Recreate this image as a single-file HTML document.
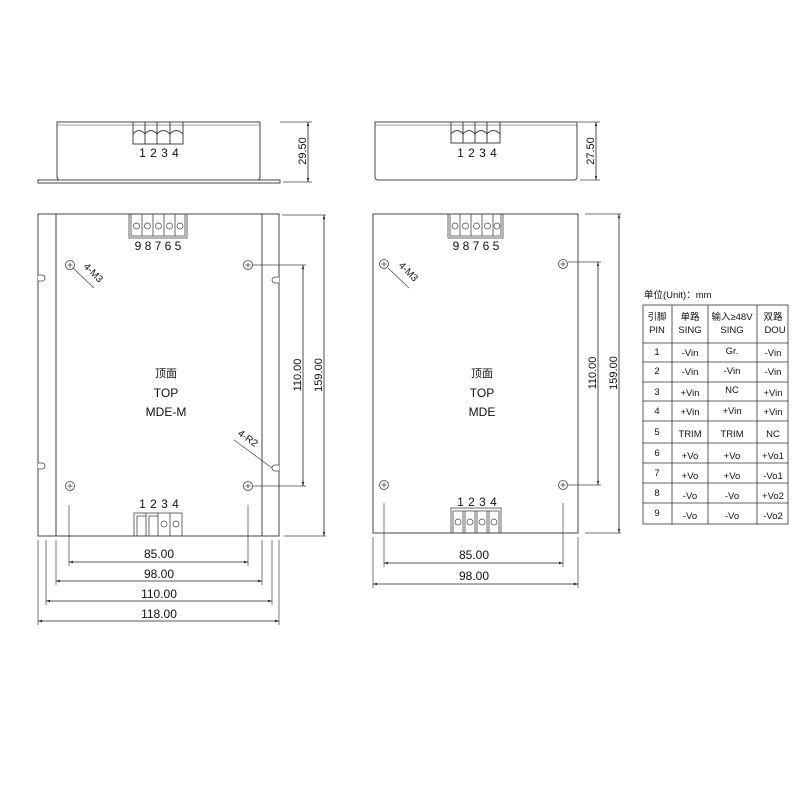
<!DOCTYPE html>
<html><head><meta charset="utf-8"><style>
html,body{margin:0;padding:0;background:#fff;}
svg{display:block;font-family:"Liberation Sans","Noto Sans CJK SC",sans-serif;}
.sp{word-spacing:1px;}
</style></head><body>
<svg width="800" height="800" viewBox="0 0 800 800" xmlns="http://www.w3.org/2000/svg">
<defs>
<marker id="a" viewBox="0 0 10 10" refX="10" refY="5" markerWidth="5" markerHeight="5" orient="auto-start-reverse"><path d="M0,2 L10,5 L0,8 z" fill="#222"/></marker>
<g id="hole"><circle r="4.5" fill="#fff" stroke="#444" stroke-width="0.8"/><path d="M-2.5,0H2.5M0,-2.5V2.5" stroke="#444" stroke-width="0.8"/></g>
</defs>
<rect width="800" height="800" fill="#fff"/>
<g stroke="#444" stroke-width="1" fill="none">
<path d="M57,122 H260 V177 Q260,180 257,180 H60 Q57,180 57,177 Z"/>
<line x1="57" y1="125" x2="260" y2="125" stroke-width="0.6"/>
<rect x="38" y="180" width="242" height="3"/>
<rect x="133" y="122" width="50" height="22"/>
<path d="M133,134 q6,-7 12,0 q6,-7 12,0 q6,-7 13,0 q6,-7 13,0 M145,122v22 M157,122v22 M170,122v22"/>
<line x1="280" y1="122" x2="312" y2="122" stroke-width="0.7"/>
<line x1="283" y1="182" x2="312" y2="182" stroke-width="0.7"/>
<line x1="308" y1="122" x2="308" y2="182" stroke="#222" stroke-width="0.8" marker-start="url(#a)" marker-end="url(#a)"/>

<rect x="38" y="214" width="241" height="322"/>
<line x1="56" y1="214" x2="56" y2="536"/>
<line x1="262" y1="214" x2="262" y2="536"/>
<path d="M38,275 h4 a3,3 0 0 1 0,6 h-4 M279,277 h-4 a3,3 0 0 0 0,6 h4 M38,463 h4 a3,3 0 0 1 0,6 h-4 M279,465 h-4 a3,3 0 0 0 0,6 h4" stroke-width="0.8" fill="#fff"/>
<rect x="129" y="214" width="58" height="24" stroke-width="0.8"/>
<rect x="131" y="214" width="54" height="22" stroke-width="0.8"/>
<path d="M142,214v22 M153,214v22 M164,214v22 M175,214v22" stroke-width="0.8"/>
<g stroke-width="0.7"><circle cx="136.5" cy="226" r="3"/><circle cx="147.5" cy="226" r="3"/><circle cx="158.5" cy="226" r="3"/><circle cx="169.5" cy="226" r="3"/><circle cx="180" cy="226" r="3"/></g>
<rect x="134" y="513" width="48" height="23" stroke-width="0.8"/>
<path d="M137,516v20 M146,513v23 M149,516v20 M158,513v23 M170,513v23 M137,516h9 M149,516h9" stroke-width="0.8"/>
<g stroke-width="0.7"><circle cx="164" cy="524" r="3"/><circle cx="176" cy="524" r="3"/></g>
<line x1="73" y1="268" x2="94" y2="288" stroke-width="0.7"/>
<line x1="234" y1="440" x2="272" y2="468" stroke-width="0.7"/>
<line x1="253" y1="265" x2="306" y2="265" stroke-width="0.7"/>
<line x1="253" y1="486" x2="306" y2="486" stroke-width="0.7"/>
<line x1="303" y1="265" x2="303" y2="486" stroke="#222" stroke-width="0.8" marker-start="url(#a)" marker-end="url(#a)"/>
<line x1="282" y1="215" x2="326" y2="215" stroke-width="0.7"/>
<line x1="284" y1="536" x2="326" y2="536" stroke-width="0.7"/>
<line x1="324" y1="215" x2="324" y2="536" stroke="#222" stroke-width="0.8" marker-start="url(#a)" marker-end="url(#a)"/>
<g stroke-width="0.7">
<path d="M69,505V566 M248,505V566 M56,540V585 M262,540V585 M46,540V605 M272,540V605 M38,540V625 M279,540V625"/>
</g>
<g stroke="#222" stroke-width="0.8">
<line x1="69" y1="562" x2="248" y2="562" marker-start="url(#a)" marker-end="url(#a)"/>
<line x1="56" y1="581" x2="262" y2="581" marker-start="url(#a)" marker-end="url(#a)"/>
<line x1="46" y1="601" x2="272" y2="601" marker-start="url(#a)" marker-end="url(#a)"/>
<line x1="38" y1="621" x2="279" y2="621" marker-start="url(#a)" marker-end="url(#a)"/>
</g>

<path d="M375,122 H577 V177 Q577,180 574,180 H378 Q375,180 375,177 Z"/>
<line x1="375" y1="125" x2="577" y2="125" stroke-width="0.6"/>
<rect x="451" y="122" width="49" height="21"/>
<path d="M451,134 q6,-7 12,0 q6,-7 12,0 q6,-7 12,0 q6,-7 13,0 M463,122v21 M475,122v21 M487,122v21"/>
<line x1="578" y1="122" x2="600" y2="122" stroke-width="0.7"/>
<line x1="580" y1="180" x2="600" y2="180" stroke-width="0.7"/>
<line x1="596" y1="122" x2="596" y2="180" stroke="#222" stroke-width="0.8" marker-start="url(#a)" marker-end="url(#a)"/>

<rect x="373" y="214" width="205" height="319"/>
<rect x="448" y="214" width="55" height="24" stroke-width="0.8"/>
<path d="M450,214v22h51v-22 M460,214v22 M471,214v22 M482,214v22 M493,214v22" stroke-width="0.8"/>
<g stroke-width="0.7"><circle cx="455" cy="226" r="3"/><circle cx="465.5" cy="226" r="3"/><circle cx="476.5" cy="226" r="3"/><circle cx="487.5" cy="226" r="3"/><circle cx="497" cy="226" r="3"/></g>
<rect x="451" y="508" width="50" height="25" stroke-width="0.8"/>
<path d="M453,511v22 M463,511v22 M465,511v22 M475,511v22 M477,511v22 M487,511v22 M489,511v22 M499,511v22 M453,511h46" stroke-width="0.8"/>
<g stroke-width="0.7"><circle cx="458" cy="522" r="3"/><circle cx="470" cy="522" r="3"/><circle cx="482" cy="522" r="3"/><circle cx="494" cy="522" r="3"/></g>
<line x1="388" y1="268" x2="409" y2="288" stroke-width="0.7"/>
<line x1="568" y1="262" x2="601" y2="262" stroke-width="0.7"/>
<line x1="568" y1="485" x2="601" y2="485" stroke-width="0.7"/>
<line x1="598" y1="262" x2="598" y2="485" stroke="#222" stroke-width="0.8" marker-start="url(#a)" marker-end="url(#a)"/>
<line x1="585" y1="214" x2="621" y2="214" stroke-width="0.7"/>
<line x1="585" y1="533" x2="621" y2="533" stroke-width="0.7"/>
<line x1="619" y1="214" x2="619" y2="533" stroke="#222" stroke-width="0.8" marker-start="url(#a)" marker-end="url(#a)"/>
<path d="M384,503V567 M563,503V567 M373,537V588 M578,537V588" stroke-width="0.7"/>
<g stroke="#222" stroke-width="0.8">
<line x1="384" y1="563" x2="563" y2="563" marker-start="url(#a)" marker-end="url(#a)"/>
<line x1="373" y1="584" x2="578" y2="584" marker-start="url(#a)" marker-end="url(#a)"/>
</g>

<g stroke="#333" stroke-width="0.8">
<rect x="643" y="305" width="145" height="219"/>
<path d="M672,305V524 M708,305V524 M757,305V524"/>
<path d="M643,343H788 M643,362H788 M643,382H788 M643,401H788 M643,421H788 M643,443H788 M643,463H788 M643,483H788 M643,503H788"/>
</g>
</g>

<use href="#hole" x="70" y="265"/><use href="#hole" x="248" y="265"/>
<use href="#hole" x="70" y="486"/><use href="#hole" x="248" y="486"/>
<use href="#hole" x="384" y="264"/><use href="#hole" x="563" y="264"/>
<use href="#hole" x="384" y="485"/><use href="#hole" x="563" y="485"/>

<g fill="#111" font-size="12" text-anchor="middle">
<text x="159" y="157" class="sp">1 2 3 4</text>
<text x="158" y="250">9 8 7 6 5</text>
<text x="159" y="508" class="sp">1 2 3 4</text>
<text x="477" y="157" class="sp">1 2 3 4</text>
<text x="476" y="250">9 8 7 6 5</text>
<text x="477" y="506" class="sp">1 2 3 4</text>
<text x="166" y="377" font-size="11">顶面</text>
<text x="166" y="397">TOP</text>
<text x="166" y="416">MDE-M</text>
<text x="482" y="377" font-size="11">顶面</text>
<text x="482" y="397">TOP</text>
<text x="482" y="416">MDE</text>
<text x="159" y="558">85.00</text>
<text x="159" y="578">98.00</text>
<text x="159" y="598">110.00</text>
<text x="159" y="618">118.00</text>
<text x="474" y="559">85.00</text>
<text x="474" y="580">98.00</text>
<text transform="translate(306,151) rotate(-90)" font-size="11">29.50</text>
<text transform="translate(594,151) rotate(-90)" font-size="11">27.50</text>
<text transform="translate(301,375) rotate(-90)" font-size="11">110.00</text>
<text transform="translate(322,375) rotate(-90)" font-size="11">159.00</text>
<text transform="translate(596,373) rotate(-90)" font-size="11">110.00</text>
<text transform="translate(617,373) rotate(-90)" font-size="11">159.00</text>
<text transform="translate(91,275) rotate(45)" font-size="10">4-M3</text>
<text transform="translate(406,274) rotate(45)" font-size="10">4-M3</text>
<text transform="translate(246,441) rotate(35)" font-size="10">4-R2</text>
</g>

<g fill="#111" font-size="9.5" text-anchor="middle">
<text x="644" y="298" text-anchor="start">单位(Unit)：mm</text>
<text x="657" y="320">引脚</text><text x="657" y="333">PIN</text>
<text x="690" y="320">单路</text><text x="690" y="333">SING</text>
<text x="732" y="320">输入≥48V</text><text x="732" y="333">SING</text>
<text x="773" y="320">双路</text><text x="775" y="333">DOU</text>
<text x="657" y="355">1</text><text x="690" y="356">-Vin</text><text x="732" y="354">Gr.</text><text x="773" y="356">-Vin</text>
<text x="657" y="374">2</text><text x="690" y="375">-Vin</text><text x="732" y="374">-Vin</text><text x="773" y="375">-Vin</text>
<text x="657" y="395">3</text><text x="690" y="396">+Vin</text><text x="732" y="393">NC</text><text x="773" y="396">+Vin</text>
<text x="657" y="414">4</text><text x="690" y="415">+Vin</text><text x="732" y="414">+Vin</text><text x="773" y="415">+Vin</text>
<text x="657" y="435">5</text><text x="690" y="437">TRIM</text><text x="732" y="437">TRIM</text><text x="773" y="437">NC</text>
<text x="657" y="456">6</text><text x="690" y="459">+Vo</text><text x="732" y="459">+Vo</text><text x="773" y="459">+Vo1</text>
<text x="657" y="476">7</text><text x="690" y="479">+Vo</text><text x="732" y="479">+Vo</text><text x="773" y="479">-Vo1</text>
<text x="657" y="496">8</text><text x="690" y="499">-Vo</text><text x="732" y="499">-Vo</text><text x="773" y="499">+Vo2</text>
<text x="657" y="516">9</text><text x="690" y="519">-Vo</text><text x="732" y="519">-Vo</text><text x="773" y="519">-Vo2</text>
</g>
</svg>
</body></html>
